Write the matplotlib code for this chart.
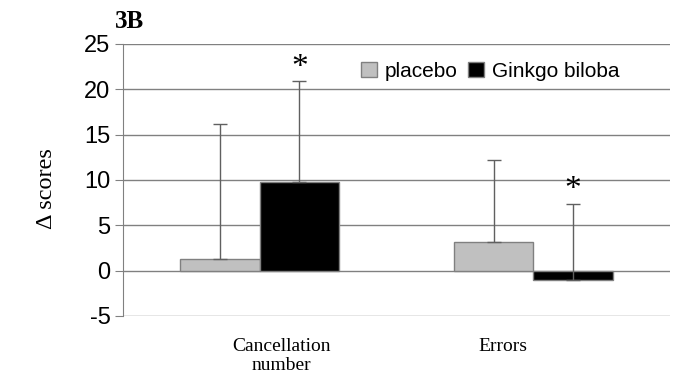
import matplotlib
matplotlib.use("Agg")
import matplotlib.pyplot as plt
import numpy as np

categories = ["Cancellation\nnumber", "Errors"]
series_names = ["placebo", "Ginkgo biloba"]
placebo_vals = [1.3, 3.2]
ginkgo_vals = [9.8, -1.0]
placebo_err = [14.9, 9.0]
ginkgo_err = [11.1, 8.4]
significant_ginkgo = [True, True]
yticks = [-5, 0, 5, 10, 15, 20, 25]

plt.rcParams["axes.unicode_minus"] = False

fig = plt.figure(figsize=(6.82, 3.76), dpi=100)
ax = fig.add_axes([0.1804, 0.1596, 0.8020, 0.7234])

x = np.arange(len(categories))
w = 0.29
gcol = "#808080"
ax.set_xlim(-0.5, len(categories) - 0.5)
ax.set_ylim(-5, 25)
ax.set_yticks(yticks)
ax.yaxis.grid(True, color=gcol, linewidth=1)
ax.set_axisbelow(True)

ax.bar(x - w/2, placebo_vals, w, color="#c0c0c0", edgecolor=gcol, linewidth=1, label=series_names[0], zorder=2)
ax.bar(x + w/2, ginkgo_vals, w, color="black", edgecolor=gcol, linewidth=1, label=series_names[1], zorder=2)
ax.errorbar(x - w/2, placebo_vals, yerr=[np.zeros(2), placebo_err], fmt="none", ecolor="#606060",
            elinewidth=1, capsize=5, capthick=1, zorder=3)
ax.errorbar(x + w/2, ginkgo_vals, yerr=[np.zeros(2), ginkgo_err], fmt="none", ecolor="#606060",
            elinewidth=1, capsize=5, capthick=1, zorder=3)

for xi, v, e, s in zip(x + w/2, ginkgo_vals, ginkgo_err, significant_ginkgo):
    if s:
        ax.annotate("*", (xi, v + e), xytext=(0, -1), textcoords="offset points",
                    ha="center", va="bottom", fontsize=24, family="Liberation Serif")

for s in ["top", "right", "bottom"]:
    ax.spines[s].set_visible(False)
ax.spines["left"].set_color(gcol)
ax.tick_params(axis="y", length=6, color=gcol, labelsize=17, pad=3)
for lab in ax.get_yticklabels():
    lab.set_family("Liberation Sans")

# category labels (slightly offset from group centres, as in the original)
label_offsets = [0.08, -0.11]
ax.set_xticks(x + np.array(label_offsets))
ax.set_xticklabels(categories, family="Liberation Serif", fontsize=14, linespacing=1.1)
ax.tick_params(axis="x", length=0, pad=16)

ax.set_ylabel("Δ scores", family="Liberation Serif", fontsize=17.5)
ax.yaxis.set_label_coords(-0.12, 0.47)

ax.legend(loc="upper left", bbox_to_anchor=(0.435, 0.935), ncol=2, frameon=False,
          prop={"family": "Liberation Sans", "size": 15}, handlelength=0.75, handleheight=0.75,
          handletextpad=0.4, columnspacing=0.5, borderaxespad=0, borderpad=0)

fig.text(0.169, 0.9255, "3B", family="Liberation Serif", weight="bold", fontsize=18, ha="left", va="baseline")

fig.savefig("out.png", dpi=100)
